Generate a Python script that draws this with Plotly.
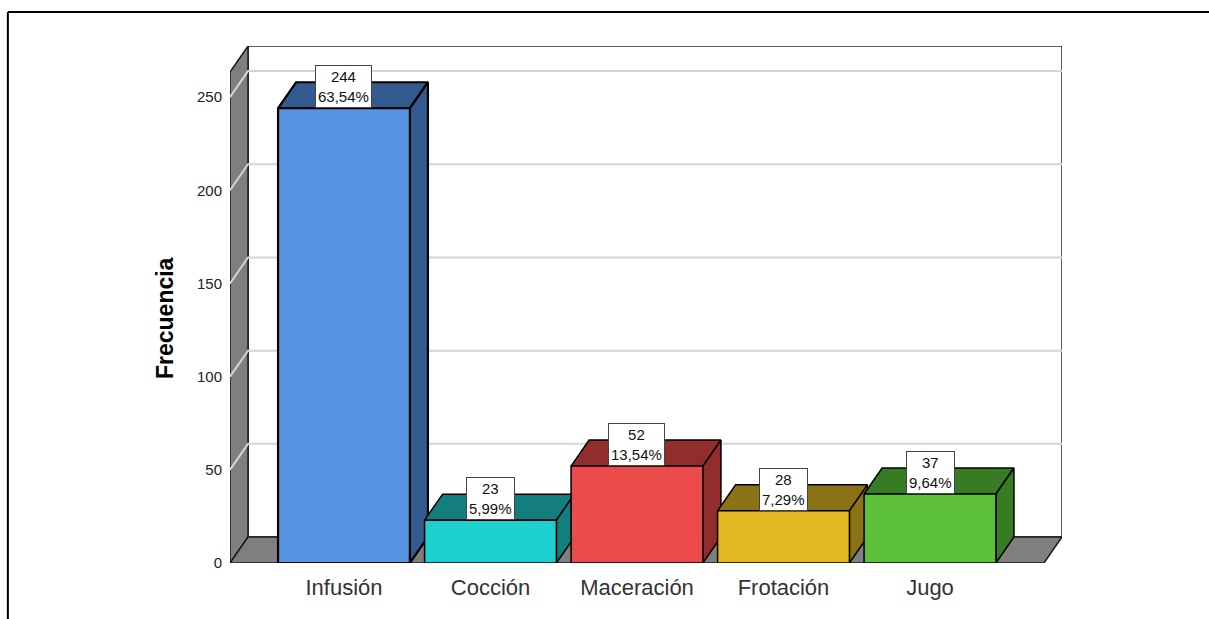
import plotly.graph_objects as go

# Data
categories = ["Infusión", "Cocción", "Maceración", "Frotación", "Jugo"]
counts = [244, 23, 52, 28, 37]
front_colors = ["#5494e3", "#1dcfcf", "#ec4b4c", "#e1b820", "#5dc13a"]
shade_colors = ["#335b90", "#137e7e", "#922d2e", "#8b7214", "#377b22"]
y_ticks = [0, 50, 100, 150, 200, 250]

total = sum(counts)
percents = [c / total * 100 for c in counts]

# 3D box geometry (in axis units)
DX = 0.123        # depth offset along x
DY = 13.95        # depth offset along y
HALF_W = 0.45     # half bar width
X_MIN, X_MAX = -0.778, 4.901
Y_MAX = 277.4
WALL_TOP = Y_MAX - DY

FONT = "Arial, Liberation Sans, sans-serif"

fig = go.Figure()


def poly(xs, ys, fill, line_color="#000000", width=1.5):
    fig.add_trace(go.Scatter(
        x=list(xs) + [xs[0]], y=list(ys) + [ys[0]],
        mode="lines", fill="toself", fillcolor=fill,
        line=dict(color=line_color, width=width),
        hoverinfo="skip", showlegend=False,
    ))


def seg(xs, ys, color, width):
    fig.add_trace(go.Scatter(
        x=xs, y=ys, mode="lines", line=dict(color=color, width=width),
        hoverinfo="skip", showlegend=False,
    ))


# back wall
poly([X_MIN + DX, X_MAX, X_MAX, X_MIN + DX],
     [DY, DY, Y_MAX, Y_MAX], "#ffffff", "#2b2b2b", 1.5)
# left wall
poly([X_MIN, X_MIN, X_MIN + DX, X_MIN + DX],
     [0, WALL_TOP, Y_MAX, DY], "#7f7f7f", "#1a1a1a", 1.5)
# floor
poly([X_MIN, X_MAX - DX, X_MAX, X_MIN + DX],
     [0, 0, DY, DY], "#7f7f7f", "#1a1a1a", 1.5)

# gridlines on the walls
for v in y_ticks[1:]:
    seg([X_MIN, X_MIN + DX, X_MAX], [v, v + DY, v + DY], "#d4d4d4", 2)

# bars: top, side and front faces
for i, (v, fc, sc) in enumerate(zip(counts, front_colors, shade_colors)):
    x0, x1 = i - HALF_W, i + HALF_W
    bw = 2.2 if i == 0 else 1.5
    poly([x0, x1, x1 + DX, x0 + DX], [v, v, v + DY, v + DY], sc, "#000000", bw)
    poly([x1, x1 + DX, x1 + DX, x1], [0, DY, v + DY, v], sc, "#000000", bw)
    poly([x0, x1, x1, x0], [0, 0, v, v], fc, "#000000", bw)

# value labels
for i, (v, p) in enumerate(zip(counts, percents)):
    txt = f"{v}<br>{p:.2f}%".replace(".", ",")
    fig.add_annotation(
        x=i, y=v, xref="x", yref="y", text=txt, showarrow=False,
        yanchor="bottom", xanchor="center",
        font=dict(family=FONT, size=15, color="#111111"),
        bgcolor="#ffffff", bordercolor="#444444", borderwidth=1, borderpad=2,
    )

# axis title
fig.add_annotation(
    x=-0.078, y=0.474, xref="paper", yref="paper", text="<b>Frecuencia</b>",
    textangle=-90, showarrow=False, xanchor="center", yanchor="middle",
    font=dict(family=FONT, size=23, color="#000000"),
)

# outer frame
fig.add_shape(type="line", xref="paper", yref="paper",
              x0=-0.267, x1=1.2, y0=1.066, y1=1.066,
              line=dict(color="#000000", width=2))
fig.add_shape(type="line", xref="paper", yref="paper",
              x0=-0.267, x1=-0.267, y0=1.066, y1=-0.12,
              line=dict(color="#000000", width=2))

fig.update_layout(
    width=1209, height=619,
    margin=dict(l=230, r=147, t=46, b=56),
    paper_bgcolor="#ffffff", plot_bgcolor="rgba(0,0,0,0)",
    showlegend=False,
    xaxis=dict(
        range=[X_MIN, X_MAX], tickmode="array",
        tickvals=list(range(len(categories))), ticktext=categories,
        showgrid=False, zeroline=False, showline=False,
        ticks="outside", ticklen=5, tickcolor="rgba(0,0,0,0)",
        tickfont=dict(family=FONT, size=22, color="#333333"),
        fixedrange=True,
    ),
    yaxis=dict(
        range=[0, Y_MAX], tickmode="array", tickvals=y_ticks,
        showgrid=False, zeroline=False, showline=False,
        ticks="outside", ticklen=4, tickcolor="rgba(0,0,0,0)",
        tickfont=dict(family=FONT, size=15, color="#222222"),
        fixedrange=True,
    ),
)

fig.write_html("out.html")
